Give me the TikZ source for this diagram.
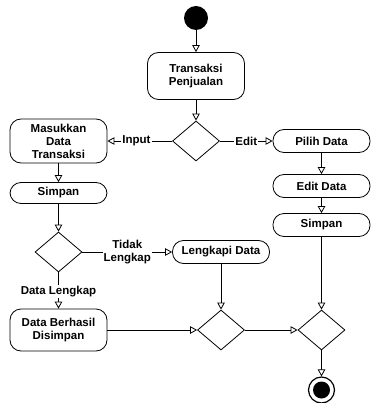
\documentclass[tikz,border=0pt]{standalone}
\usepackage{fontspec}
\setmainfont{Liberation Sans}
\usepackage{tikz}
\usetikzlibrary{arrows.meta,shapes.geometric,positioning}

\begin{document}
\begin{tikzpicture}[->,>={Triangle[open,length=7pt,width=7.5pt]},x=1pt,y=-1pt,
                    line width=0.8pt]
\tikzstyle{every node}=[font=\fontsize{11.5}{13}\selectfont\bfseries]
\tikzstyle{act}=[draw,rectangle,rounded corners=11pt,minimum width=97pt,
                 minimum height=23pt,align=center,inner sep=2pt]
\tikzstyle{choice}=[draw,diamond,minimum width=47pt,minimum height=40pt,inner sep=0pt]
\tikzstyle{initnode}=[circle,fill=black,minimum size=24pt,inner sep=0pt]
\tikzstyle{endnode}=[circle,draw,line width=1.2pt,minimum size=26pt,inner sep=0pt,
                     path picture={\fill (path picture bounding box.center) circle (8.5pt);}]
\tikzstyle{lbl}=[fill=white,inner sep=1pt,align=center]
\useasboundingbox (0,0) rectangle (370,403);

\node [initnode] (start) at (196,18) {};
\node [act] [below of=start,node distance=58pt,minimum height=47pt] (trans) {Transaksi\\Penjualan};
\node [choice] [below of=trans,node distance=65pt] (c1) {};
\node [act] [left of=c1,node distance=137.5pt,minimum height=44pt] (masuk) {Masukkan\\Data\\Transaksi};
\node [act] [right of=c1,node distance=125.5pt] (pilih) {Pilih Data};
\node [act] [below of=pilih,node distance=45pt] (editd) {Edit Data};
\node [act] [below of=editd,node distance=39pt] (simpanr) {Simpan};
\node [act] [below of=masuk,node distance=52pt,minimum height=21pt] (simpanl) {Simpan};
\node [choice] [below of=simpanl,node distance=59pt] (c2) {};
\node [act] [right of=c2,node distance=162.5pt] (lengkapi) {Lengkapi Data};
\node [act] [below of=c2,node distance=78pt,minimum height=42pt] (berhasil) {Data Berhasil\\Disimpan};
\node [choice] [below of=lengkapi,node distance=78pt] (c3) {};
\node [choice] [right of=c3,node distance=100.5pt] (c4) {};
\node [endnode] [below of=c4,node distance=60pt] (end) {};

\path (start) edge (trans)
      (trans) edge (c1)
      (c1) edge node [lbl,pos=0.55] {Input} (masuk)
      (c1) edge node [lbl] {Edit} (pilih)
      (pilih) edge (editd)
      (editd) edge (simpanr)
      (masuk) edge (simpanl)
      (simpanl) edge (c2)
      (c2) edge node [lbl] {Tidak\\Lengkap} (lengkapi)
      (c2) edge node [lbl,pos=0.53] {Data Lengkap} (berhasil)
      (lengkapi) edge (c3)
      (berhasil) edge (c3)
      (simpanr) edge (c4)
      (c3) edge (c4)
      (c4) edge (end);
\end{tikzpicture}
\end{document}
